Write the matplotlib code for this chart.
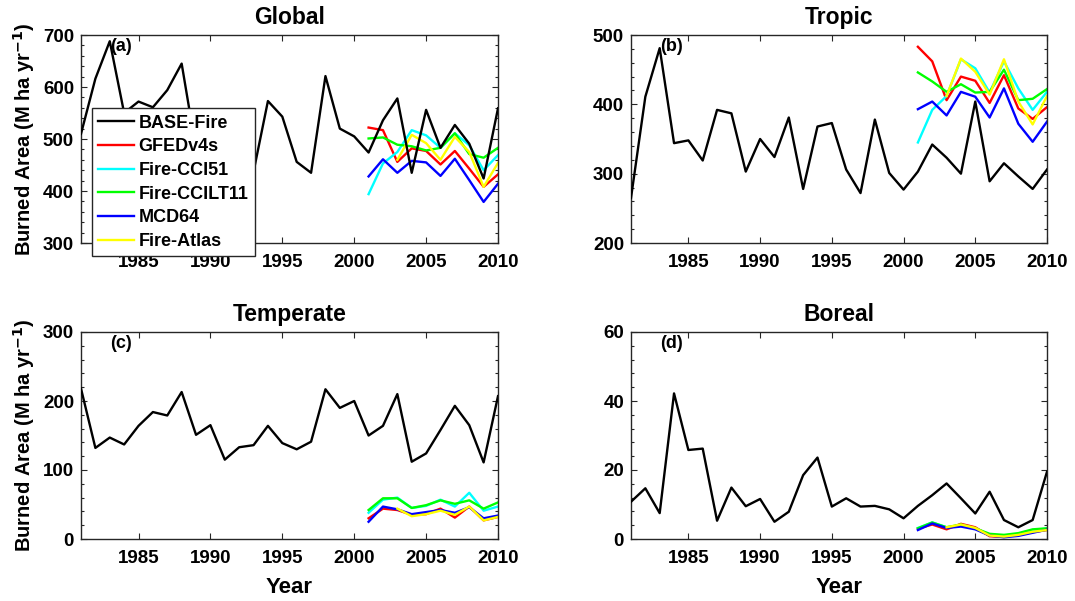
import matplotlib
matplotlib.use("Agg")
import matplotlib.pyplot as plt
from matplotlib.ticker import MultipleLocator, AutoMinorLocator
import numpy as np

plt.rcParams['font.family'] = ['Liberation Sans', 'DejaVu Sans']
plt.rcParams['font.weight'] = 'bold'

years = list(range(1981, 2011))
years_sat = list(range(2001, 2011))
years_atlas = list(range(2003, 2011))

series_names = ['BASE-Fire', 'GFEDv4s', 'Fire-CCI51', 'Fire-CCILT11', 'MCD64', 'Fire-Atlas']
series_colors = ['black', '#ff0000', '#00ffff', '#00ff00', '#0000ff', '#ffff00']

# Global
glob_base = [510, 616, 688, 550, 572, 561, 594, 645, 480, 490, 420, 470, 437, 573, 543,
             456, 435, 621, 520, 505, 474, 536, 578, 435, 556, 483, 527, 491, 424, 559]
glob_gfed = [522, 517, 456, 482, 477, 451, 477, 443, 408, 432]
glob_cci51 = [394, 453, 475, 517, 507, 483, 511, 488, 440, 469]
glob_ccilt = [501, 503, 489, 486, 478, 483, 511, 471, 464, 483]
glob_mcd = [428, 461, 435, 458, 455, 429, 462, 421, 379, 414]
glob_atlas = [460, 508, 492, 460, 504, 475, 408, 454]

# Tropic
trop_base = [265, 411, 481, 344, 348, 319, 392, 387, 303, 350, 324, 381, 278, 368, 373,
             306, 272, 378, 301, 277, 303, 342, 323, 300, 404, 289, 315, 296, 278, 306]
trop_gfed = [483, 462, 406, 440, 434, 402, 442, 394, 379, 396]
trop_cci51 = [345, 392, 412, 465, 452, 417, 462, 423, 392, 418]
trop_ccilt = [446, 433, 418, 429, 417, 418, 450, 406, 408, 422]
trop_mcd = [393, 404, 384, 418, 411, 381, 423, 372, 346, 375]
trop_atlas = [412, 466, 447, 414, 465, 404, 371, 412]

# Temperate
temp_base = [218, 132, 147, 137, 164, 184, 179, 213, 151, 165, 115, 133, 136, 164, 139,
             130, 141, 217, 190, 200, 150, 164, 210, 112, 124, 158, 193, 165, 111, 207]
temp_gfed = [30, 44, 42, 35, 36, 44, 31, 47, 27, 32]
temp_cci51 = [38, 57, 60, 45, 48, 57, 47, 67, 41, 47]
temp_ccilt = [42, 59, 59, 45, 49, 56, 51, 56, 44, 53]
temp_mcd = [25, 47, 43, 36, 39, 42, 38, 46, 30, 34]
temp_atlas = [44, 33, 36, 41, 35, 47, 27, 32]

# Boreal
bor_base = [10.8, 14.7, 7.5, 42.2, 25.8, 26.2, 5.3, 14.9, 9.5, 11.6, 5.0, 7.9, 18.5, 23.6, 9.4,
            11.8, 9.4, 9.6, 8.6, 6.0, 9.6, 12.7, 16.1, 11.8, 7.4, 13.7, 5.5, 3.4, 5.5, 19.5]
bor_gfed = [3.0, 4.2, 2.8, 4.4, 3.4, 0.8, 0.6, 1.3, 2.0, 2.6]
bor_cci51 = [3.2, 4.8, 3.4, 4.0, 3.0, 1.3, 1.0, 1.5, 2.6, 3.0]
bor_ccilt = [3.1, 4.8, 3.4, 4.2, 3.1, 1.5, 1.2, 1.7, 2.8, 3.1]
bor_mcd = [2.6, 4.5, 3.2, 3.6, 2.8, 1.0, 0.5, 0.9, 1.8, 2.7]
bor_atlas = [3.4, 4.2, 3.2, 1.0, 0.7, 1.2, 2.1, 2.6]

panels = [
    ('Global', '(a)', (300, 700), 100, [glob_base, glob_gfed, glob_cci51, glob_ccilt, glob_mcd, glob_atlas]),
    ('Tropic', '(b)', (200, 500), 100, [trop_base, trop_gfed, trop_cci51, trop_ccilt, trop_mcd, trop_atlas]),
    ('Temperate', '(c)', (0, 300), 100, [temp_base, temp_gfed, temp_cci51, temp_ccilt, temp_mcd, temp_atlas]),
    ('Boreal', '(d)', (0, 60), 20, [bor_base, bor_gfed, bor_cci51, bor_ccilt, bor_mcd, bor_atlas]),
]

W, H = 1075, 601
fig = plt.figure(figsize=(W / 100, H / 100), dpi=100)
boxes = [(81, 35, 498, 243), (631, 35, 1047, 243), (81, 332, 498, 539), (631, 332, 1047, 539)]
spine_col = '#262626'

axes = []
for (title, lab, ylim, ystep, data), (x0, y0, x1, y1) in zip(panels, boxes):
    ax = fig.add_axes([x0 / W, 1 - y1 / H, (x1 - x0) / W, (y1 - y0) / H])
    axes.append(ax)
    xs_list = [years, years_sat, years_sat, years_sat, years_sat, years_atlas]
    for i in range(6):
        ax.plot(xs_list[i], data[i], color=series_colors[i], lw=1.7,
                label=series_names[i], zorder=3 if i == 0 else 2)
    ax.set_xlim(1981, 2010)
    ax.set_ylim(*ylim)
    ax.set_xticks([1985, 1990, 1995, 2000, 2005, 2010])
    ax.yaxis.set_major_locator(MultipleLocator(ystep))
    ax.yaxis.set_minor_locator(AutoMinorLocator(5))
    ax.tick_params(which='both', direction='in', top=True, right=True, colors=spine_col,
                   labelcolor='black', labelsize=13.5, width=0.8)
    ax.tick_params(which='major', length=4)
    ax.tick_params(which='minor', length=2)
    ax.tick_params(axis='x', pad=8)
    ax.tick_params(axis='y', pad=5)
    for lbl in ax.get_xticklabels() + ax.get_yticklabels():
        lbl.set_fontweight('bold')
    for s in ax.spines.values():
        s.set_color(spine_col)
        s.set_linewidth(1.0)
    ax.set_title(title, fontsize=16.5, fontweight='bold', pad=8)
    ax.text(0.07, 0.985, lab, transform=ax.transAxes, fontsize=13, fontweight='bold',
            va='top', ha='left', zorder=5)

for ax in (axes[0], axes[2]):
    ax.set_ylabel('Burned Area (M ha yr$^{\\mathbf{-1}}$)', fontsize=14.5, fontweight='bold', labelpad=4)
for ax in (axes[2], axes[3]):
    ax.set_xlabel('Year', fontsize=16, fontweight='bold', labelpad=7)

leg = axes[0].legend(loc='upper left', bbox_to_anchor=(91.7 / W, 1 - 108.3 / H),
                     bbox_transform=fig.transFigure, borderaxespad=0, fancybox=False,
                     edgecolor=spine_col, framealpha=1, prop={'size': 13, 'weight': 'bold'},
                     handlelength=2.0, handletextpad=0.25, labelspacing=0.37, borderpad=0.35)
leg.get_frame().set_linewidth(1.0)
leg.set_zorder(10)

fig.savefig('out.png', dpi=100)
